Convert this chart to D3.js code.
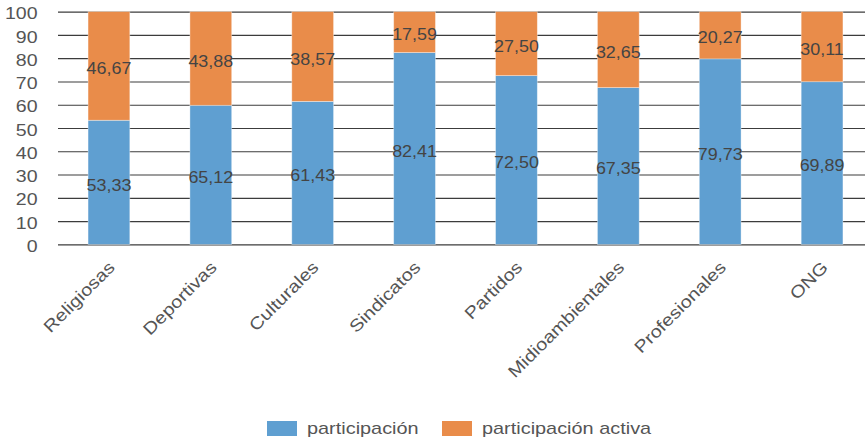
<!DOCTYPE html>
<html>
<head>
<meta charset="utf-8">
<script src="https://cdn.jsdelivr.net/npm/d3@7"></script>
<style>
  html, body { margin: 0; padding: 0; background: #fff; }
  svg { display: block; font-family: "Liberation Sans", Arial, Helvetica, sans-serif; }
</style>
</head>
<body>
<svg id="chart" width="865" height="440"></svg>
<script>
// Tipos de asociación
const categories = ["Religiosas", "Deportivas", "Culturales", "Sindicatos", "Partidos", "Midioambientales", "Profesionales", "ONG"];
// Valores por serie
const participacion = [53.33, 65.12, 61.43, 82.41, 72.50, 67.35, 79.73, 69.89];
const participacionActiva = [46.67, 43.88, 38.57, 17.59, 27.50, 32.65, 20.27, 30.11];
const seriesNames = ["participación", "participación activa"];
const seriesColors = ["#5f9fd1", "#e98c4a"];
// Marcas del eje vertical
const yTicks = [0, 10, 20, 30, 40, 50, 60, 70, 80, 90, 100];

const svg = d3.select("#chart");
const W = 865;

// Filas para el apilado al 100 %
const rows = categories.map((c, i) => ({
  cat: c,
  [seriesNames[0]]: participacion[i],
  [seriesNames[1]]: participacionActiva[i]
}));
const stacked = d3.stack()
  .keys(seriesNames)
  .offset(d3.stackOffsetExpand)(rows);

const x = d3.scaleBand()
  .domain(categories)
  .range([58, 873])
  .paddingInner(0.59)
  .paddingOuter(0.295);

const y = d3.scaleLinear()
  .domain([0, 100])
  .range([244.4, 11.6]);

const fmt = v => v.toFixed(2).replace(".", ",");

// Líneas de cuadrícula
const grid = svg.append("g")
  .attr("transform", "translate(58,0)")
  .call(d3.axisRight(y).tickValues(yTicks).tickSize(W - 58).tickFormat(""));
grid.select(".domain").remove();
grid.selectAll("line").attr("stroke", "#3c3c3c").attr("stroke-width", 1.1);

// Etiquetas del eje vertical
const yAxis = svg.append("g")
  .attr("transform", "translate(41,0)")
  .call(d3.axisLeft(y).tickValues(yTicks).tickSize(0).tickPadding(3));
yAxis.select(".domain").remove();
yAxis.selectAll("text")
  .attr("fill", "#555")
  .attr("font-size", 17)
  .attr("dy", "0.42em")
  .attr("transform", "scale(1.15,1)");

// Barras apiladas
const layers = svg.append("g").selectAll("g")
  .data(stacked)
  .join("g")
  .attr("fill", (d, i) => seriesColors[i]);

layers.selectAll("rect")
  .data(d => d)
  .join("rect")
  .attr("x", d => x(d.data.cat))
  .attr("width", x.bandwidth())
  .attr("y", d => y(d[1] * 100))
  .attr("height", d => y(d[0] * 100) - y(d[1] * 100))
  .attr("stroke", "rgba(255,255,255,0.45)")
  .attr("stroke-width", 0.8);

// Valores de cada segmento
layers.each(function (layer, si) {
  const raw = si === 0 ? participacion : participacionActiva;
  d3.select(this).selectAll("text")
    .data(layer)
    .join("text")
    .attr("transform", (d, i) => {
      const cx = x(d.data.cat) + x.bandwidth() / 2;
      const cy = (y(d[0] * 100) + y(d[1] * 100)) / 2 + 3;
      return `translate(${cx},${cy}) scale(1.12,1)`;
    })
    .attr("text-anchor", "middle")
    .attr("dominant-baseline", "central")
    .attr("font-size", 16)
    .attr("fill", "#444")
    .text((d, i) => fmt(raw[i]));
});

// Eje horizontal con etiquetas inclinadas
const xAxis = svg.append("g")
  .attr("transform", "translate(0,244.4)")
  .call(d3.axisBottom(x).tickSize(0));
xAxis.select(".domain").remove();
xAxis.selectAll("text")
  .attr("y", 0)
  .attr("dy", 0)
  .attr("text-anchor", "end")
  .attr("fill", "#555")
  .attr("font-size", 17)
  .attr("transform", "translate(7,24) rotate(-45) scale(1.18,1)");

// Leyenda
const legendX = [267, 442];
const legend = svg.append("g").selectAll("g")
  .data(seriesNames)
  .join("g")
  .attr("transform", (d, i) => `translate(${legendX[i]},421)`);
legend.append("rect")
  .attr("width", 30)
  .attr("height", 15)
  .attr("fill", (d, i) => seriesColors[i]);
legend.append("text")
  .attr("transform", "translate(40,13) scale(1.17,1)")
  .attr("font-size", 17)
  .attr("fill", "#555")
  .text(d => d);
</script>
</body>
</html>
